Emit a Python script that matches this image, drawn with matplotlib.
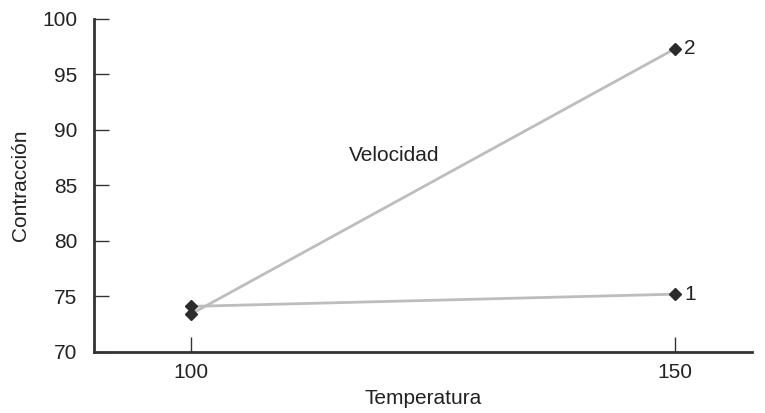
import matplotlib
matplotlib.use("Agg")
import matplotlib.pyplot as plt

plt.rcParams["font.family"] = ["Liberation Sans", "DejaVu Sans"]

temperatura = [100, 150]
velocidad_1 = [74.1, 75.2]
velocidad_2 = [73.4, 97.3]
series = [("1", velocidad_1), ("2", velocidad_2)]

fig = plt.figure(figsize=(7.65, 4.13), dpi=100)
ax = fig.add_axes([0.123, 0.148, 0.860, 0.806])

for name, vals in series:
    ax.plot(temperatura, vals, color="#bdbdbd", linewidth=2, zorder=1)
    ax.plot(temperatura, vals, linestyle="none", marker="D", markersize=6,
            color="#2b2b2b", zorder=2)
    ax.text(temperatura[-1] + 1.0, vals[-1], name, fontsize=15,
            va="center", ha="left", color="#222222")

ax.text(121, 87.7, "Velocidad", fontsize=15, ha="center", va="center",
        color="#222222")

ax.set_xlim(90, 158)
ax.set_ylim(70, 100)
ax.set_xticks(temperatura)
ax.set_yticks(range(70, 101, 5))
ax.tick_params(direction="in", length=11, width=1, colors="#333333",
               labelsize=15, labelcolor="#222222")
ax.tick_params(axis="x", pad=8)
ax.tick_params(axis="y", pad=12)
for s in ("top", "right"):
    ax.spines[s].set_visible(False)
for s in ("left", "bottom"):
    ax.spines[s].set_linewidth(2)
    ax.spines[s].set_color("#333333")

ax.set_xlabel("Temperatura", fontsize=15, color="#222222", labelpad=5)
ax.set_ylabel("Contracción", fontsize=15, color="#222222", labelpad=9)

fig.savefig("out.png", dpi=100)
